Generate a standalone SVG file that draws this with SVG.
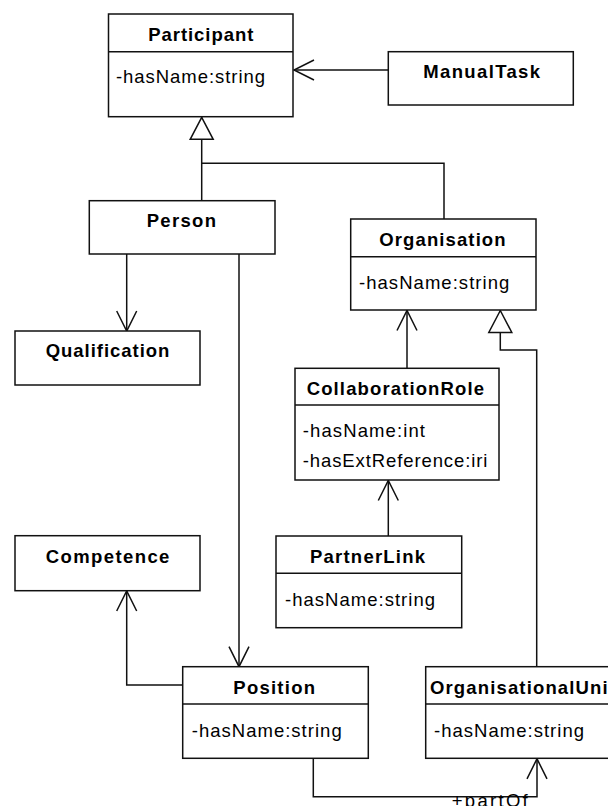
<svg xmlns="http://www.w3.org/2000/svg" width="608" height="806" viewBox="0 0 608 806">
  <style>
    .box { fill: #fff; stroke: #111; stroke-width: 1.5; }
    .div { stroke: #111; stroke-width: 1.5; }
    .edge { fill: none; stroke: #111; stroke-width: 1.5; }
    .title { font-family: "Liberation Sans", Arial, sans-serif; font-size: 18.5px; font-weight: bold; fill: #000; }
    .attr { font-family: "Liberation Sans", Arial, sans-serif; font-size: 18.5px; fill: #000; }
  </style>
  <defs>
    <!-- open navigation arrow -->
    <marker id="open" markerUnits="userSpaceOnUse" viewBox="-24 -14 28 28" refX="0" refY="0" markerWidth="28" markerHeight="28" orient="auto" overflow="visible">
      <path d="M-20,-10 L0,0 L-20,10" fill="none" stroke="#111" stroke-width="1.5"/>
    </marker>
    <!-- hollow generalisation triangle -->
    <marker id="gen" markerUnits="userSpaceOnUse" viewBox="-26 -14 30 28" refX="0" refY="0" markerWidth="30" markerHeight="28" orient="auto" overflow="visible">
      <path d="M0,0 L-22,-11.5 L-22,11.5 Z" fill="#fff" stroke="#111" stroke-width="1.5"/>
    </marker>
  </defs>

  <rect width="608" height="806" fill="#fff"/>

  <g id="connectors">
    <path class="edge" d="M388.3,70 H294" marker-end="url(#open)"/>
    <path class="edge" d="M444,219 V163.3 H201.7"/>
    <path class="edge" d="M201.7,200.7 V117.3" marker-end="url(#gen)"/>
    <path class="edge" d="M126.7,254 V331" marker-end="url(#open)"/>
    <path class="edge" d="M239,254 V666.7" marker-end="url(#open)"/>
    <path class="edge" d="M182.7,685 H126.7 V591" marker-end="url(#open)"/>
    <path class="edge" d="M407,368.3 V310.5" marker-end="url(#open)"/>
    <path class="edge" d="M388.3,536 V480.5" marker-end="url(#open)"/>
    <path class="edge" d="M536.7,666.7 V350 H500.3 V310.5" marker-end="url(#gen)"/>
    <path class="edge" d="M313.3,758.3 V796.7 H537 V758.8" marker-end="url(#open)"/>
    <text class="attr" x="451.7" y="806.5" textLength="76" lengthAdjust="spacing">+partOf</text>
  </g>

  <g id="participant">
    <rect class="box" x="108.5" y="14" width="184.5" height="102.7"/>
    <line class="div" x1="108.5" y1="51.7" x2="293" y2="51.7"/>
    <text class="title" x="148.3" y="40.7" textLength="105" lengthAdjust="spacing">Participant</text>
    <text class="attr" x="116" y="83.3" textLength="149" lengthAdjust="spacing">-hasName:string</text>
  </g>

  <g id="manualtask">
    <rect class="box" x="388.3" y="51.7" width="185" height="53.3"/>
    <text class="title" x="423.3" y="78.3" textLength="116.7" lengthAdjust="spacing">ManualTask</text>
  </g>

  <g id="person">
    <rect class="box" x="89.3" y="200.7" width="185.7" height="53.3"/>
    <text class="title" x="146.7" y="227.3" textLength="69.3" lengthAdjust="spacing">Person</text>
  </g>

  <g id="qualification">
    <rect class="box" x="15" y="331" width="185" height="54"/>
    <text class="title" x="45.7" y="357" textLength="123.7" lengthAdjust="spacing">Qualification</text>
  </g>

  <g id="organisation">
    <rect class="box" x="350.7" y="219" width="185.3" height="91"/>
    <line class="div" x1="350.7" y1="256.7" x2="536" y2="256.7"/>
    <text class="title" x="379.3" y="246" textLength="126.3" lengthAdjust="spacing">Organisation</text>
    <text class="attr" x="359" y="288.7" textLength="150.3" lengthAdjust="spacing">-hasName:string</text>
  </g>

  <g id="collaborationrole">
    <rect class="box" x="295" y="368.3" width="204" height="111.7"/>
    <line class="div" x1="295" y1="405" x2="499" y2="405"/>
    <text class="title" x="306.7" y="395" textLength="177.3" lengthAdjust="spacing">CollaborationRole</text>
    <text class="attr" x="302.7" y="437.3" textLength="122.3" lengthAdjust="spacing">-hasName:int</text>
    <text class="attr" x="302.7" y="466.7" textLength="184.7" lengthAdjust="spacing">-hasExtReference:iri</text>
  </g>

  <g id="partnerlink">
    <rect class="box" x="276" y="536" width="185.7" height="91.7"/>
    <line class="div" x1="276" y1="573.3" x2="461.7" y2="573.3"/>
    <text class="title" x="310" y="563.3" textLength="115" lengthAdjust="spacing">PartnerLink</text>
    <text class="attr" x="285" y="606" textLength="150" lengthAdjust="spacing">-hasName:string</text>
  </g>

  <g id="competence">
    <rect class="box" x="15" y="535.7" width="185" height="55"/>
    <text class="title" x="45.7" y="563.3" textLength="123.7" lengthAdjust="spacing">Competence</text>
  </g>

  <g id="position">
    <rect class="box" x="182.7" y="666.7" width="185.6" height="91.6"/>
    <line class="div" x1="182.7" y1="704" x2="368.3" y2="704"/>
    <text class="title" x="233.3" y="694" textLength="81.7" lengthAdjust="spacing">Position</text>
    <text class="attr" x="191.7" y="736.7" textLength="150" lengthAdjust="spacing">-hasName:string</text>
  </g>

  <g id="organisationalunit">
    <rect class="box" x="425.7" y="666.7" width="200" height="91.6"/>
    <line class="div" x1="425.7" y1="704" x2="625.7" y2="704"/>
    <text class="title" x="430" y="694" textLength="185" lengthAdjust="spacing">OrganisationalUnit</text>
    <text class="attr" x="434" y="736.7" textLength="150" lengthAdjust="spacing">-hasName:string</text>
  </g>
</svg>
